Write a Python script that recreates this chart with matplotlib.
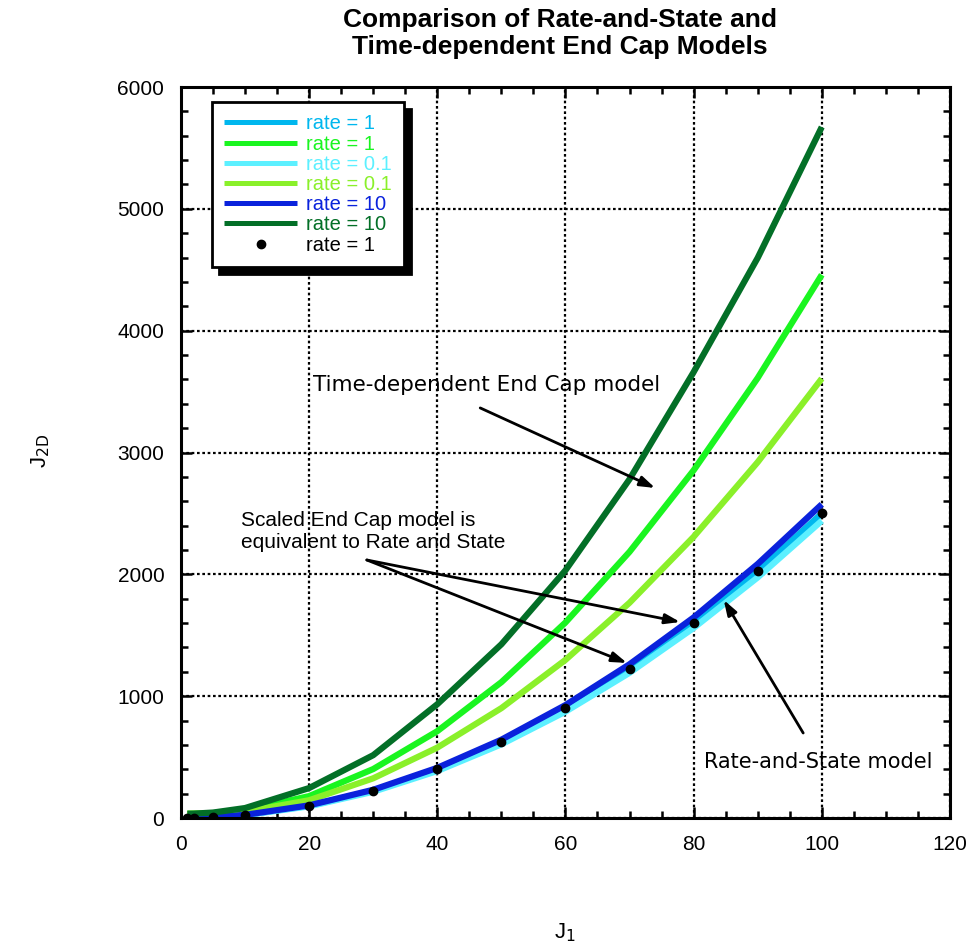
import numpy as np
import matplotlib.pyplot as plt

# J1 sample points shared by every curve
j1 = [1, 2, 5, 10, 20, 30, 40, 50, 60, 70, 80, 90, 100]

# rate-and-state model
rs_rate1 = [0.3, 1, 6, 25, 100, 225, 400, 625, 900, 1225, 1600, 2025, 2500]
rs_rate01 = [0.3, 1, 6, 24, 96, 216, 386, 605, 873, 1192, 1560, 1975, 2440]
rs_rate10 = [0.3, 1, 7, 26, 104, 232, 412, 643, 927, 1262, 1646, 2085, 2575]

# time-dependent end cap model
ec_rate1 = [35, 36, 40, 62, 180, 402, 713, 1115, 1605, 2185, 2854, 3612, 4459]
ec_rate01 = [35, 36, 38, 52, 146, 326, 578, 902, 1298, 1767, 2308, 2921, 3607]
ec_rate10 = [35, 36, 45, 82, 246, 516, 934, 1426, 2033, 2781, 3660, 4598, 5672]

# scaled end cap model, rate = 1
scaled_rate1 = [0.25, 1, 6.25, 25, 100, 225, 400, 625, 900, 1225, 1600, 2025, 2500]

plt.rcParams['font.family'] = ['Liberation Sans', 'DejaVu Sans']

fig = plt.figure(figsize=(9.74, 9.49), dpi=100)
ax = fig.add_axes([0.1858, 0.138, 0.7895, 0.7703])

lw = 4.5
series = [
    (rs_rate1, '#00b7ee', 'rate = 1'),
    (ec_rate1, '#1af520', 'rate = 1'),
    (rs_rate01, '#5cf0ff', 'rate = 0.1'),
    (ec_rate01, '#8af02a', 'rate = 0.1'),
    (rs_rate10, '#0a22dc', 'rate = 10'),
    (ec_rate10, '#036f27', 'rate = 10'),
]
for ys, c, lab in series:
    ax.plot(j1, ys, color=c, lw=lw, label=lab, solid_capstyle='butt')
ax.plot(j1, scaled_rate1, 'o', color='black', ms=6, label='rate = 1')

ax.set_xlim(0, 120)
ax.set_ylim(0, 6000)
ax.set_xticks(np.arange(0, 121, 20))
ax.set_yticks(np.arange(0, 6001, 1000))
ax.set_xticks(np.arange(0, 121, 5), minor=True)
ax.set_yticks(np.arange(0, 6001, 200), minor=True)
ax.tick_params(which='both', direction='in', top=True, right=True,
               width=1.8, labelsize=15, pad=12)
ax.tick_params(which='major', length=8)
ax.tick_params(which='minor', length=5)
for s in ax.spines.values():
    s.set_linewidth(2.2)
ax.grid(True, which='major', color='black', linestyle=(0, (1.2, 1.2)), lw=1.6)
ax.set_axisbelow(True)

fig.text(0.042, 0.525, r'J$_{\rm 2D}$', rotation=90, fontsize=16,
         ha='center', va='center')
fig.text(0.58, 0.017, r'J$_{\rm 1}$', fontsize=16, ha='center', va='center')
fig.text(0.575, 0.965, 'Comparison of Rate-and-State and\nTime-dependent End Cap Models',
         fontsize=19, fontweight='bold', ha='center', va='center', linespacing=1.15)

leg = ax.legend(loc='upper left', bbox_to_anchor=(0.040, 0.979), borderaxespad=0,
                fontsize=14.5, handlelength=3.65, handletextpad=0.45,
                labelspacing=0.06, borderpad=0.6, fancybox=False,
                shadow={'color': 'black', 'alpha': 1, 'ox': 5, 'oy': -5},
                framealpha=1, edgecolor='black')
leg.get_frame().set_linewidth(2)
text_colors = [c for _, c, _ in series] + ['black']
for txt, c in zip(leg.get_texts(), text_colors):
    txt.set_color(c)
for h in leg.legend_handles[:-1]:
    h.set_linewidth(3.6)

arrow = dict(arrowstyle='-|>,head_length=0.9,head_width=0.3', color='black', lw=2,
             shrinkA=0, shrinkB=0)
ax.text(20.6, 3555, 'Time-dependent End Cap model', fontsize=15.5,
        family=['DejaVu Sans'], va='center')
ax.annotate('', xy=(74.0, 2709), xytext=(46.7, 3366), arrowprops=arrow)
ax.text(9.4, 2350, 'Scaled End Cap model is\nequivalent to Rate and State',
        fontsize=15, va='center', linespacing=1.2)
ax.annotate('', xy=(77.9, 1609), xytext=(29.0, 2118), arrowprops=arrow)
ax.annotate('', xy=(69.6, 1273), xytext=(29.0, 2118), arrowprops=arrow)
ax.text(81.6, 460, 'Rate-and-State model', fontsize=15, family=['DejaVu Sans'],
        va='center')
ax.annotate('', xy=(84.7, 1790), xytext=(97.1, 698), arrowprops=arrow)

fig.savefig('out.png', dpi=100)
